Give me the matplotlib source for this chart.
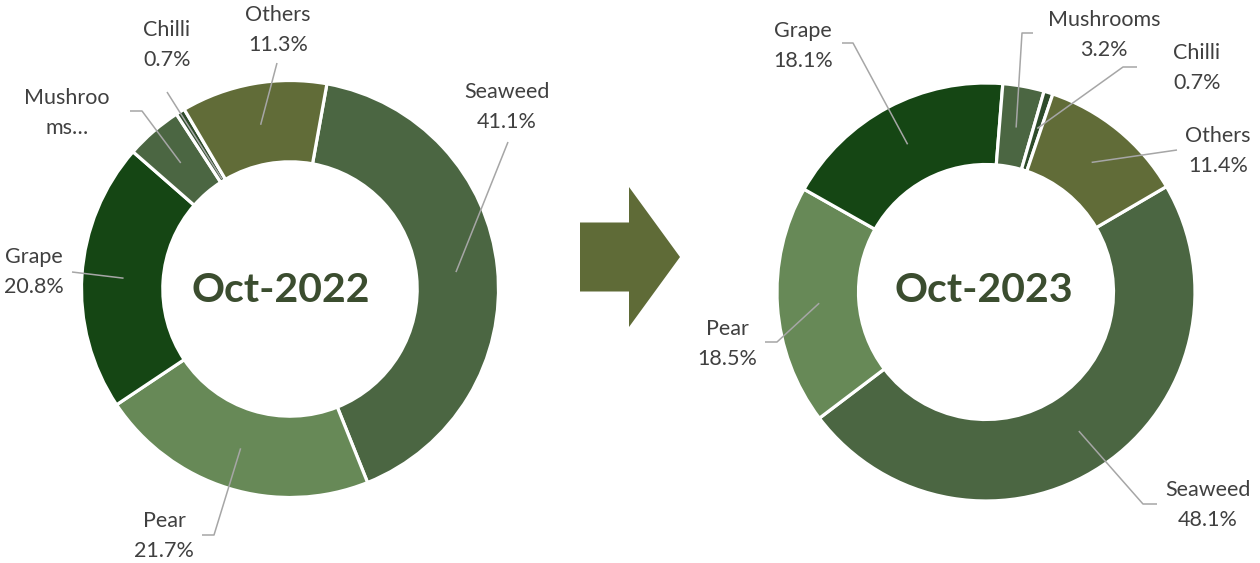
import matplotlib
matplotlib.use("Agg")
import matplotlib.pyplot as plt
import matplotlib.patches as mpatches
import numpy as np

plt.rcParams['font.family'] = ['Lato', 'DejaVu Sans']

# data
categories = ['Seaweed', 'Pear', 'Grape', 'Mushrooms', 'Chilli', 'Others']
share_2022 = [41.1, 21.7, 20.8, 4.4, 0.7, 11.3]
share_2023 = [48.1, 18.5, 18.1, 3.2, 0.7, 11.4]
titles = ['Oct-2022', 'Oct-2023']
colors = ['#4B6642', '#678957', '#154614', '#4B6642', '#2E4B2A', '#616C38']

W, H = 1260, 563
TEXT = '#404040'
LINE = '#A6A6A6'


def fy(y):
    # pixel row (from top) -> data y
    return H - y


def label_lines(name, val, truncated):
    # Excel cut the Mushrooms label in the 2022 chart
    if truncated:
        return ['Mushroo', 'ms\u2026']
    return [name, f'{val:.1f}%']


fig = plt.figure(figsize=(W / 100, H / 100), dpi=100)
ax = fig.add_axes([0, 0, 1, 1])

# layout of the two donuts: centre, outer radius, start angle
charts = [
    dict(values=share_2022, title=titles[0], cx=290, cy=289, r=208.5,
         start=79.8, title_xy=(281, 291), cut='Mushrooms',
         # text centre, leader path (pixel), end radius factor
         labels=[((507, 107), [(508, 142)], 0.80),
                 ((164, 536), [(202, 535), (214, 535)], 0.80),
                 ((34, 272), [(72, 272)], 0.80),
                 ((67, 113), [(130, 111), (142, 111)], 0.80),
                 ((167, 45), [(167, 92)], 0.62),
                 ((278, 30), [(277, 63)], 0.80)]),
    dict(values=share_2023, title=titles[1], cx=986, cy=292, r=209,
         start=30.3, title_xy=(984, 291), cut=None,
         labels=[((1208, 505), [(1157, 504), (1143, 504)], 0.80),
                 ((727, 344), [(765, 342), (777, 342)], 0.80),
                 ((803, 46), [(842, 43), (853, 43)], 0.80),
                 ((1104, 35), [(1033, 33), (1022, 33)], 0.80),
                 ((1197, 68), [(1137, 67), (1123, 67)], 0.82),
                 ((1218, 151), [(1177, 150)], 0.80)]),
]

for ch in charts:
    r = ch['r']
    wedges, _ = ax.pie(ch['values'], colors=colors, startangle=ch['start'],
                       counterclock=False, radius=r,
                       center=(ch['cx'], fy(ch['cy'])),
                       wedgeprops=dict(width=r * 0.39, edgecolor='white',
                                       linewidth=2.3))
    ax.text(ch['title_xy'][0], fy(ch['title_xy'][1]), ch['title'],
            ha='center', va='center', fontsize=29.5, fontweight='bold',
            color='#3B4D2F')

    for w, name, val, (txy, path, rf) in zip(wedges, categories,
                                              ch['values'], ch['labels']):
        mid = np.deg2rad((w.theta1 + w.theta2) / 2)
        ex = ch['cx'] + rf * r * np.cos(mid)
        ey = fy(ch['cy']) + rf * r * np.sin(mid)
        xs = [p[0] for p in path] + [ex]
        ys = [fy(p[1]) for p in path] + [ey]
        ax.plot(xs, ys, color=LINE, lw=1.1, solid_capstyle='butt', zorder=3)

        lines = label_lines(name, val, name == ch['cut'])
        n = len(lines)
        for i, s in enumerate(lines):
            yy = txy[1] + (i - (n - 1) / 2) * 29.5
            ax.text(txy[0], fy(yy), s, ha='center', va='center',
                    fontsize=15.5, color=TEXT)

# arrow between the two charts
arrow = mpatches.FancyArrow(580, fy(257), 100, 0, width=69, head_width=140,
                            head_length=51, length_includes_head=True,
                            color='#5F6B37', lw=0)
ax.add_patch(arrow)

ax.set_xlim(0, W)
ax.set_ylim(0, H)
ax.set_aspect('equal')
ax.axis('off')

fig.savefig('out.png', dpi=100, facecolor='white')
